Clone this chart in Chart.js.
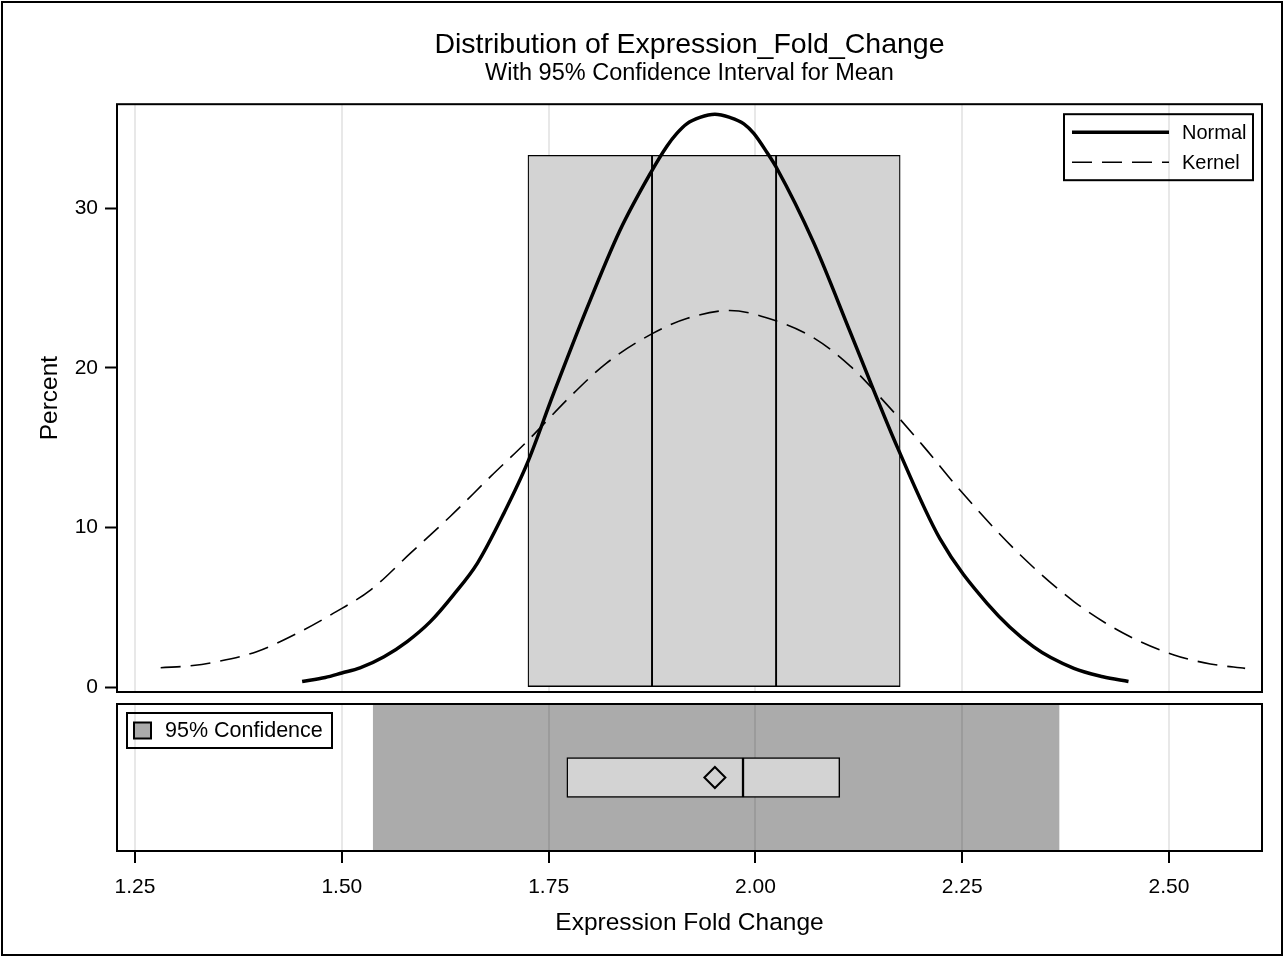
<!DOCTYPE html>
<html>
<head>
<meta charset="utf-8">
<title>Distribution of Expression_Fold_Change</title>
<script src="https://cdn.jsdelivr.net/npm/chart.js@4.4.1/dist/chart.umd.min.js"></script>
<style>
  html, body { margin: 0; padding: 0; background: #fff; }
  #page { position: relative; width: 1285px; height: 957px; overflow: hidden; background: #fff; }
  #histCanvas { position: absolute; left: 0; top: 0; }
  #boxCanvas { position: absolute; left: 0; top: 698px; }
  #outline { position: absolute; left: 1px; top: 1px; width: 1282px; height: 955px;
             box-sizing: border-box; border: 2px solid #000; pointer-events: none; }
</style>
</head>
<body>
<div id="page">
  <canvas id="histCanvas" width="1285" height="720"></canvas>
  <canvas id="boxCanvas" width="1285" height="259"></canvas>
  <div id="outline"></div>
</div>
<script>
// ---- data -------------------------------------------------------------
const xTickValues = [1.25, 1.50, 1.75, 2.00, 2.25, 2.50];
const yTickValues = [0, 10, 20, 30];

// histogram bins (midpoints) and percent of observations in each
const binMidpoints = [1.80, 1.95, 2.10];
const binPercents  = [33.33, 33.33, 33.33];

// fitted normal curve (percent scale)
const normalX = [1.452, 1.480, 1.500, 1.522, 1.551, 1.579, 1.607, 1.635, 1.664, 1.696,
                 1.724, 1.756, 1.796, 1.836, 1.873, 1.893, 1.905, 1.917, 1.933, 1.951,
                 1.969, 1.986, 1.998, 2.014, 2.026, 2.070, 2.115, 2.143, 2.171, 2.223,
                 2.280, 2.336, 2.385, 2.420, 2.451];
const normalY = [0.35, 0.60, 0.88, 1.20, 1.90, 2.85, 4.10, 5.78, 7.77, 10.9,
                 14.0, 18.4, 23.7, 28.6, 32.2, 33.9, 34.7, 35.3, 35.7, 35.9,
                 35.7, 35.3, 34.7, 33.5, 32.5, 27.9, 22.2, 18.6, 15.1, 9.3,
                 5.25, 2.53, 1.17, 0.65, 0.35];

// kernel density estimate (percent scale)
const kernelX = [1.281, 1.320, 1.349, 1.397, 1.446, 1.490, 1.535, 1.583, 1.631, 1.680,
                 1.724, 1.776, 1.820, 1.877, 1.917, 1.969, 2.022, 2.070, 2.115, 2.159,
                 2.203, 2.248, 2.320, 2.385, 2.445, 2.506, 2.550, 2.592];
const kernelY = [1.21, 1.35, 1.59, 2.22, 3.37, 4.63, 6.09, 8.39, 10.69, 13.2,
                 15.4, 18.2, 20.3, 22.2, 23.1, 23.6, 23.0, 21.9, 20.1, 17.7,
                 15.1, 12.3, 8.29, 5.36, 3.37, 2.01, 1.45, 1.17];

// box plot: first quartile, median, third quartile; and the sample mean
const quartiles = [1.772, 1.985, 2.102];
const meanValue = [1.951];
// 95% confidence limits for the mean
const meanLimits = [1.538, 2.367];

// ---- shared styling ---------------------------------------------------
const FONT = "'Liberation Sans', Arial, Helvetica, sans-serif";
Chart.defaults.font.family = FONT;
Chart.defaults.color = '#000';

const X_MIN = 1.2282, X_MAX = 2.6124;
const GRID_COLOR = '#e8e8e8';
const BAR_FILL = '#d3d3d3';
const BAND_FILL = 'rgba(0,0,0,0.33)';
const BAND_SWATCH = '#ababab';

const fixedTicks = values => scale => { scale.ticks = values.map(v => ({ value: v })); };

// black frame around each plot panel
const panelFrame = {
  id: 'panelFrame',
  afterDraw(chart) {
    const { ctx, chartArea: a } = chart;
    ctx.save();
    ctx.strokeStyle = '#000';
    ctx.lineWidth = 2;
    ctx.strokeRect(a.left, a.top, a.right - a.left, a.bottom - a.top);
    ctx.restore();
  }
};

// boxed legend drawn inside the plot area
const insetLegend = {
  id: 'insetLegend',
  afterDatasetsDraw(chart, args, opts) {
    if (!opts || !opts.items) return;
    const { ctx, chartArea: a } = chart;
    const x0 = opts.anchor === 'right' ? a.right - opts.offsetX - opts.width : a.left + opts.offsetX;
    const y0 = a.top + opts.offsetY;
    ctx.save();
    ctx.strokeStyle = '#000';
    ctx.lineWidth = 2;
    ctx.setLineDash([]);
    ctx.strokeRect(x0, y0, opts.width, opts.height);
    ctx.font = opts.fontSize + 'px ' + FONT;
    ctx.fillStyle = '#000';
    ctx.textBaseline = 'middle';
    ctx.textAlign = 'left';
    opts.items.forEach((label, i) => {
      const ds = chart.data.datasets.find(d => d.label === label);
      const cy = y0 + opts.firstRow + i * opts.rowGap;
      if (opts.kind === 'line') {
        ctx.save();
        ctx.strokeStyle = ds.borderColor;
        ctx.lineWidth = ds.borderWidth;
        ctx.setLineDash(ds.borderDash || []);
        ctx.beginPath();
        ctx.moveTo(x0 + opts.sampleStart, cy);
        ctx.lineTo(x0 + opts.sampleStart + opts.sampleLength, cy);
        ctx.stroke();
        ctx.restore();
      } else {
        ctx.save();
        ctx.fillStyle = opts.swatchColor;
        ctx.fillRect(x0 + opts.sampleStart, cy - 8, 17, 16);
        ctx.strokeStyle = '#000';
        ctx.lineWidth = 2;
        ctx.strokeRect(x0 + opts.sampleStart, cy - 8, 17, 16);
        ctx.restore();
      }
      ctx.fillText(label, x0 + opts.textStart, cy + 1);
    });
    ctx.restore();
  }
};

// ---- histogram panel ----------------------------------------------------
new Chart(document.getElementById('histCanvas'), {
  type: 'line',
  data: {
    datasets: [
      {
        type: 'line', label: 'Normal',
        data: normalX.map((x, i) => ({ x, y: normalY[i] })),
        borderColor: '#000', borderWidth: 3.5, pointRadius: 0,
        cubicInterpolationMode: 'monotone', borderJoinStyle: 'round', fill: false, order: 1
      },
      {
        type: 'line', label: 'Kernel',
        data: kernelX.map((x, i) => ({ x, y: kernelY[i] })),
        borderColor: '#000', borderWidth: 1.6, borderDash: [20, 10], pointRadius: 0,
        cubicInterpolationMode: 'monotone', fill: false, order: 2
      },
      {
        type: 'bar', label: 'Percent',
        data: binMidpoints.map((x, i) => ({ x, y: binPercents[i] })),
        backgroundColor: BAR_FILL, borderColor: '#000', borderWidth: 1.3,
        borderSkipped: false, barPercentage: 1, categoryPercentage: 1, order: 3
      }
    ]
  },
  options: {
    responsive: false,
    animation: false,
    events: [],
    layout: { autoPadding: false, padding: { left: 0, right: 23, top: 0, bottom: 28 } },
    scales: {
      x: {
        type: 'linear', min: X_MIN, max: X_MAX, offset: false,
        afterBuildTicks: fixedTicks(xTickValues),
        afterFit: s => { s.height = 0; },
        ticks: { display: false },
        grid: { color: GRID_COLOR, lineWidth: 2, drawTicks: false, offset: false },
        border: { display: false }
      },
      y: {
        type: 'linear', min: -0.31, max: 36.53, beginAtZero: false, offset: false,
        afterBuildTicks: fixedTicks(yTickValues),
        afterFit: s => { s.width = 117; },
        ticks: { font: { size: 21 }, padding: 7, color: '#000' },
        grid: { drawOnChartArea: false, tickLength: 12, tickColor: '#000', tickWidth: 2, offset: false },
        border: { display: false },
        title: { display: true, text: 'Percent', font: { size: 24.5 }, color: '#000', padding: { top: 36, bottom: 0 } }
      }
    },
    plugins: {
      legend: { display: false },
      tooltip: { enabled: false },
      title: {
        display: true, fullSize: false, text: 'Distribution of Expression_Fold_Change', color: '#000',
        font: { size: 28.5, weight: 'normal', lineHeight: 1.1 }, padding: { top: 29, bottom: 0 }
      },
      subtitle: {
        display: true, fullSize: false, text: 'With 95% Confidence Interval for Mean', color: '#000',
        font: { size: 23.5, weight: 'normal', lineHeight: 1.1 }, padding: { top: 0, bottom: 18 }
      },
      insetLegend: {
        kind: 'line', items: ['Normal', 'Kernel'], anchor: 'right',
        offsetX: 9, offsetY: 10, width: 189, height: 66,
        firstRow: 18, rowGap: 30, sampleStart: 8, sampleLength: 97, textStart: 118, fontSize: 20
      }
    }
  },
  plugins: [panelFrame, insetLegend]
});

// ---- box plot / confidence panel ----------------------------------------
const boxStyle = {
  type: 'bar', indexAxis: 'y', backgroundColor: BAR_FILL, borderColor: '#000', borderWidth: 1.5,
  borderSkipped: false, grouped: false, barThickness: 40, order: 2
};

new Chart(document.getElementById('boxCanvas'), {
  type: 'bar',
  data: {
    datasets: [
      {
        type: 'scatter', label: 'Mean',
        data: meanValue.map(x => ({ x, y: 0.5 })),
        pointStyle: 'rectRot', pointRadius: 10.5, borderColor: '#000', borderWidth: 2,
        backgroundColor: 'rgba(0,0,0,0)', order: 1
      },
      Object.assign({}, boxStyle, { label: 'Q1 to median', data: [{ y: 0.5, x: [quartiles[0], quartiles[1]] }] }),
      Object.assign({}, boxStyle, { label: 'Median to Q3', data: [{ y: 0.5, x: [quartiles[1], quartiles[2]] }] }),
      {
        type: 'bar', indexAxis: 'y', label: '95% Confidence',
        data: [{ y: 0.5, x: meanLimits }],
        backgroundColor: BAND_FILL, borderWidth: 0, borderSkipped: false,
        grouped: false, barThickness: 147, order: 4
      }
    ]
  },
  options: {
    responsive: false,
    animation: false,
    events: [],
    layout: { autoPadding: false, padding: { left: 117, right: 23, top: 6, bottom: 0 } },
    scales: {
      x: {
        type: 'linear', min: X_MIN, max: X_MAX, offset: false, beginAtZero: false,
        afterBuildTicks: fixedTicks(xTickValues),
        afterFit: s => { s.height = 106; },
        ticks: { font: { size: 21 }, padding: 12, color: '#000', maxRotation: 0, autoSkip: false,
                 callback: v => Number(v).toFixed(2) },
        grid: { color: GRID_COLOR, lineWidth: 2, tickLength: 12, tickColor: '#000', tickWidth: 2, offset: false },
        border: { display: false },
        title: { display: true, text: 'Expression Fold Change', font: { size: 24.5 }, color: '#000',
                 padding: { top: 0, bottom: 19 } }
      },
      y: {
        type: 'linear', min: 0, max: 1, display: false, offset: false, beginAtZero: false,
        grid: { offset: false }
      }
    },
    plugins: {
      legend: { display: false },
      tooltip: { enabled: false },
      insetLegend: {
        kind: 'swatch', items: ['95% Confidence'], anchor: 'left', swatchColor: BAND_SWATCH,
        offsetX: 10, offsetY: 9, width: 205, height: 35,
        firstRow: 17.5, rowGap: 0, sampleStart: 7, textStart: 38, fontSize: 21.5
      }
    }
  },
  plugins: [panelFrame, insetLegend]
});
</script>
</body>
</html>
